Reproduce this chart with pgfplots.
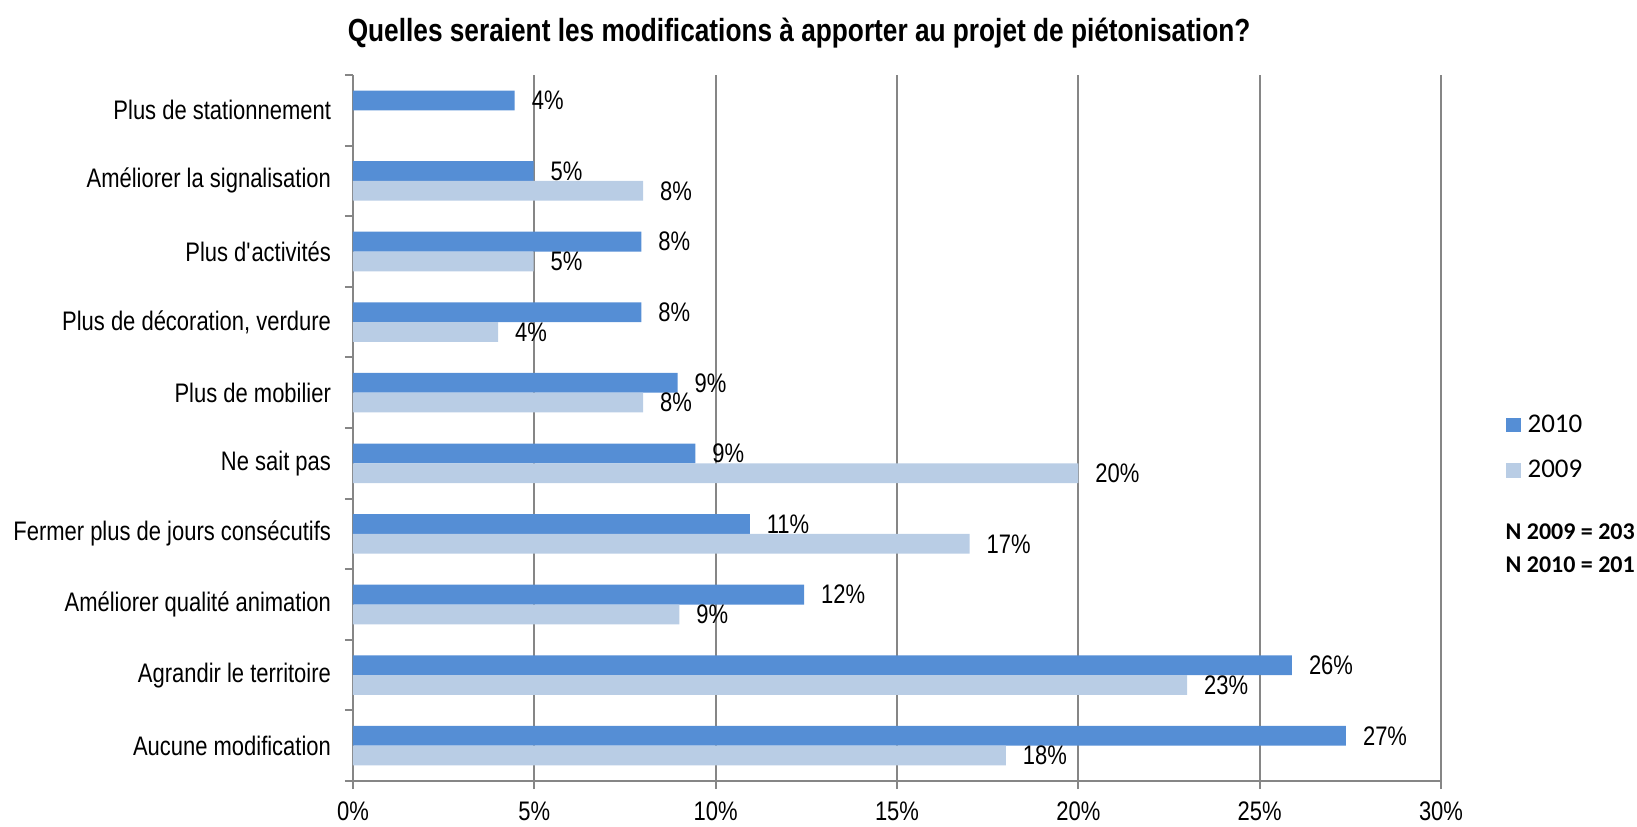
\documentclass[border=0pt]{standalone}
\usepackage{pgfplots}
\pgfplotsset{compat=1.18}
\usepackage{fontspec}
\setmainfont{Liberation Sans}[FakeStretch=0.82]
\newfontfamily\calfont{Carlito}
\definecolor{c2010}{RGB}{85,142,213}
\definecolor{c2009}{RGB}{185,205,229}
\definecolor{axgray}{RGB}{134,134,134}

\pgfplotstableread{
y v lab
0 27.38 27
1 25.89 26
2 12.44 12
3 10.94 11
4 9.44 9
5 8.95 9
6 7.95 8
7 7.95 8
8 4.98 5
9 4.46 4
}\dataA
\pgfplotstableread{
y v lab
0 18.0 18
1 23.0 23
2 9.0 9
3 17.0 17
4 20.0 20
5 8.0 8
6 4.0 4
7 4.98 5
8 8.0 8
}\dataB

\begin{document}
\begin{tikzpicture}
\path[use as bounding box] (-176.5pt,-22.5pt) rectangle (642pt,390.5pt);
\begin{axis}[
  at={(0,0)}, anchor=south west,
  scale only axis, width=544pt, height=353pt,
  xbar, bar width=0.28,
  xmin=0, xmax=30, ymin=-0.5, ymax=9.5,
  xtick={0,5,...,30},
  xticklabels={0\%,5\%,10\%,15\%,20\%,25\%,30\%},
  ytick={0,...,9},
  yticklabels={Aucune modification, Agrandir le territoire,
    Améliorer qualité animation, Fermer plus de jours consécutifs,
    Ne sait pas, Plus de mobilier, {Plus de décoration, verdure},
    Plus d\textquotesingle activités, Améliorer la signalisation, Plus de stationnement},
  minor ytick={-0.5,0.5,...,9.5},
  tick align=outside,
  major tick length=4pt, minor tick length=4pt,
  major y tick style={draw=none},
  minor y tick style={draw=axgray, line width=1pt},
  major x tick style={draw=axgray, line width=1pt},
  axis x line*=bottom, axis y line*=left,
  axis line style={draw=axgray, line width=1pt},
  xmajorgrids, grid style={draw=axgray, line width=1pt},
  tick label style={font=\fontsize{13.4}{15}\selectfont},
  yticklabel style={xshift=-3.5pt},
  xticklabel style={yshift=-3pt},
  clip=false,
  point meta=explicit symbolic,
  nodes near coords={\pgfplotspointmeta\%},
  nodes near coords style={font=\fontsize{13.4}{15}\selectfont, anchor=west, xshift=5pt, text=black},
  legend image code/.code={\fill[#1,draw=none] (0pt,-3.7pt) rectangle (7.5pt,3.7pt);},
  legend style={at={(rel axis cs:1.059,0.472)}, anchor=west, draw=none,
    font=\calfont\fontsize{13.5}{15}\selectfont, row sep=8.5pt,
    inner sep=0pt, cells={anchor=west}},
]
\addplot[fill=c2010, draw=none, bar shift=0.14] table[x=v, y=y, meta=lab] {\dataA};
\addplot[fill=c2009, draw=none, bar shift=-0.14] table[x=v, y=y, meta=lab] {\dataB};
\legend{\hspace*{1.5pt}2010,\hspace*{1.5pt}2009}
\node[anchor=west, inner sep=0pt, font=\calfont\bfseries\fontsize{12}{14}\selectfont]
  at (rel axis cs:1.059,0.3527) {N 2009 = 203};
\node[anchor=west, inner sep=0pt, font=\calfont\bfseries\fontsize{12}{14}\selectfont]
  at (rel axis cs:1.059,0.306) {N 2010 = 201};
\node[font=\bfseries\fontsize{16}{19}\selectfont]
  at (rel axis cs:0.41,1.0595) {Quelles seraient les modifications à apporter au projet de piétonisation?};
\end{axis}
\end{tikzpicture}
\end{document}
